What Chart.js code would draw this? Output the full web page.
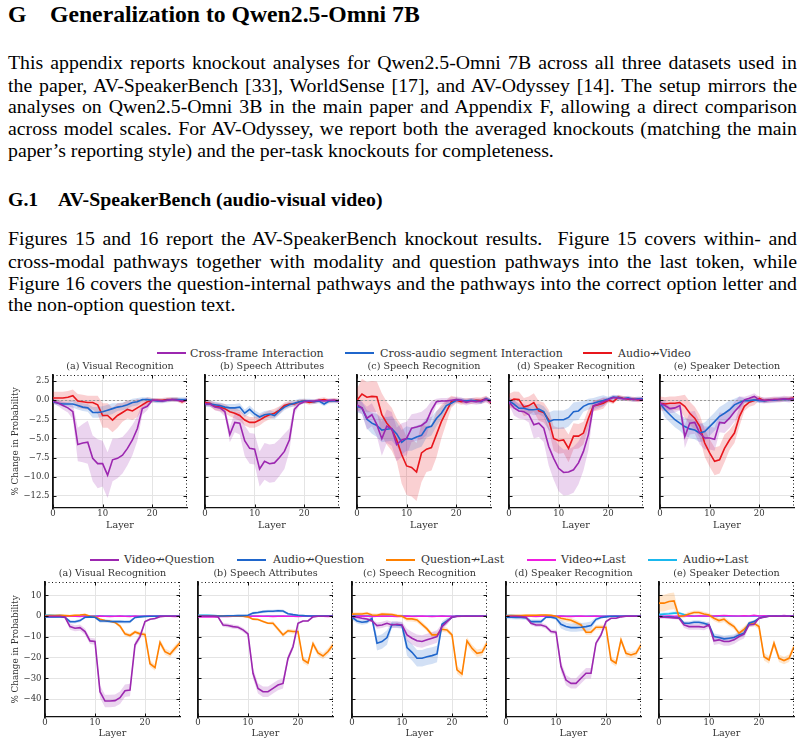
<!DOCTYPE html>
<html>
<head>
<meta charset="utf-8">
<script src="https://cdn.jsdelivr.net/npm/chart.js@4.4.1/dist/chart.umd.min.js"></script>
<style>
  body { margin: 0; width: 805px; height: 745px; position: relative; background: #fff; overflow: hidden; font-family: "Liberation Serif", "Times New Roman", serif; color: #000; }
  .t { position: absolute; left: 8px; width: 789px; font-size: 19.8px; line-height: 22px; }
  .j { text-align: justify; text-align-last: justify; }
  .h { position: absolute; font-weight: bold; }
  .ln { position: absolute; height: 2px; width: 29px; }
  .lt { position: absolute; font-family: "DejaVu Serif", serif; font-size: 11px; line-height: 13px; color: #333; white-space: nowrap; }
  canvas { position: absolute; }
</style>
</head>
<body>
<div class="h" style="left:8px;top:1px;font-size:23.7px;line-height:26px">G</div>
<div class="h" style="left:50px;top:1px;font-size:23.7px;line-height:26px">Generalization to Qwen2.5-Omni 7B</div>

<div class="t j" style="top:51px">This appendix reports knockout analyses for Qwen2.5-Omni 7B across all three datasets used in</div>
<div class="t j" style="top:74px">the paper, AV-SpeakerBench [33], WorldSense [17], and AV-Odyssey [14]. The setup mirrors the</div>
<div class="t j" style="top:95px">analyses on Qwen2.5-Omni 3B in the main paper and Appendix F, allowing a direct comparison</div>
<div class="t j" style="top:117px">across model scales. For AV-Odyssey, we report both the averaged knockouts (matching the main</div>
<div class="t" style="top:139px">paper’s reporting style) and the per-task knockouts for completeness.</div>

<div class="h" style="left:8px;top:188px;font-size:19.8px;line-height:22px">G.1</div>
<div class="h" style="left:58px;top:188px;font-size:19.8px;line-height:22px">AV-SpeakerBench (audio-visual video)</div>

<div class="t j" style="top:227px">Figures 15 and 16 report the AV-SpeakerBench knockout results.&nbsp; Figure 15 covers within- and</div>
<div class="t j" style="top:250px">cross-modal pathways together with modality and question pathways into the last token, while</div>
<div class="t j" style="top:272px">Figure 16 covers the question-internal pathways and the pathways into the correct option letter and</div>
<div class="t" style="top:293px">the non-option question text.</div>

<!-- legend, top figure -->
<span class="ln" style="left:157px;top:352px;background:#9c27b0"></span><span class="lt" style="left:190px;top:347px">Cross-frame Interaction</span>
<span class="ln" style="left:345px;top:352px;background:#1f66cc"></span><span class="lt" style="left:380px;top:347px">Cross-audio segment Interaction</span>
<span class="ln" style="left:583px;top:352px;background:#e8161c"></span><span class="lt" style="left:618px;top:347px">Audio↛Video</span>

<!-- legend, bottom figure -->
<span class="ln" style="left:90px;top:559px;background:#9c27b0"></span><span class="lt" style="left:124px;top:553px">Video↛Question</span>
<span class="ln" style="left:237px;top:559px;background:#1f66cc"></span><span class="lt" style="left:273px;top:553px">Audio↛Question</span>
<span class="ln" style="left:386px;top:559px;background:#ff8000"></span><span class="lt" style="left:421px;top:553px">Question↛Last</span>
<span class="ln" style="left:527px;top:559px;background:#f01ce0"></span><span class="lt" style="left:561px;top:553px">Video↛Last</span>
<span class="ln" style="left:648px;top:559px;background:#1ab8ee"></span><span class="lt" style="left:683px;top:553px">Audio↛Last</span>

<script>
// layer index 0..27
const layers = [0,1,2,3,4,5,6,7,8,9,10,11,12,13,14,15,16,17,18,19,20,21,22,23,24,25,26,27];
const titles = ['(a) Visual Recognition', '(b) Speech Attributes', '(c) Speech Recognition', '(d) Speaker Recognition', '(e) Speaker Detection'];

// ---- top figure: Cross-frame (cf), Cross-audio segment (ca), Audio↛Video (av)
const A_cf     = [-0.1,-0.35,-0.7,-1.0,-1.5,-5.8,-5.6,-5.5,-7.6,-8.3,-8.3,-9.8,-7.8,-7.6,-7.2,-6.3,-5.2,-3.7,-1.1,-0.8,0.0,0.0,-0.1,0.0,0.1,0.0,-0.1,0.0];
const A_cf_err = [0.3,0.4,0.5,0.6,1.0,2.2,2.5,2.8,3.0,3.2,3.0,3.0,2.8,2.6,2.4,2.2,2.0,1.6,0.8,0.5,0.2,0.2,0.2,0.2,0.2,0.2,0.2,0.2];
const A_ca     = [-0.2,-0.4,-0.5,-0.5,-0.5,-0.7,-0.9,-1.0,-1.6,-1.6,-1.5,-1.3,-1.1,-0.9,-0.8,-0.6,-0.3,-0.2,0.1,0.1,0.0,-0.1,-0.1,0.0,0.1,0.1,0.1,0.1];
const A_ca_err = [0.3,0.3,0.3,0.3,0.5,0.5,0.5,0.5,0.7,0.7,0.7,0.7,0.7,0.5,0.5,0.5,0.5,0.5,0.3,0.3,0.3,0.3,0.3,0.3,0.3,0.3,0.3,0.3];
const A_av     = [0.3,0.3,0.3,0.4,0.6,-0.1,-0.2,-0.3,-0.3,-0.6,-2.0,-2.0,-2.6,-2.0,-1.6,-1.2,-1.4,-1.0,-0.6,-0.2,0.0,0.0,0.0,0.1,0.1,0.1,-0.2,0.1];
const A_av_err = [0.8,0.8,0.8,0.8,0.8,0.9,0.9,0.9,0.9,1.2,1.6,1.6,1.6,1.6,1.2,1.2,1.2,1.2,0.6,0.6,0.3,0.3,0.3,0.3,0.3,0.3,0.3,0.3];

const B_cf     = [-0.45,-0.5,-0.9,-1.0,-1.5,-4.5,-2.9,-3.0,-5.3,-6.3,-6.4,-9.0,-8.0,-8.3,-8.2,-7.5,-6.7,-5.2,-1.2,-0.5,-0.2,-0.1,-0.1,0.0,-0.1,0.0,0.0,-0.1];
const B_cf_err = [0.3,0.3,0.4,0.5,0.6,1.0,1.3,1.5,2.0,2.0,2.0,2.3,2.4,2.5,2.5,2.4,2.3,1.5,0.6,0.2,0.2,0.2,0.2,0.2,0.2,0.2,0.2,0.2];
const B_ca     = [-0.5,-0.5,-0.6,-0.7,-0.9,-1.0,-1.0,-0.9,-1.7,-1.2,-1.8,-2.2,-1.9,-1.8,-2.0,-1.4,-0.9,-0.6,-0.4,-0.2,-0.1,-0.1,-0.2,-0.1,-0.5,-0.1,-0.1,-0.1];
const B_ca_err = [0.4,0.4,0.4,0.4,0.4,0.5,0.5,0.5,0.5,0.5,0.5,0.5,0.5,0.5,0.5,0.5,0.4,0.4,0.4,0.4,0.3,0.3,0.3,0.3,0.3,0.3,0.3,0.3];
const B_av     = [-0.3,-0.4,-0.8,-0.9,-1.1,-1.5,-1.7,-2.0,-2.6,-2.9,-2.9,-2.6,-2.2,-1.9,-1.7,-1.3,-0.7,-0.5,-0.5,-0.2,-0.1,-0.3,-0.2,0.0,0.1,-0.1,0.0,-0.1];
const B_av_err = [0.4,0.4,0.5,0.5,0.6,0.6,0.7,0.7,0.7,0.7,0.7,0.7,0.6,0.6,0.6,0.5,0.4,0.4,0.3,0.3,0.3,0.3,0.3,0.3,0.3,0.3,0.3,0.3];

const C_cf     = [-0.6,-1.0,-2.35,-1.9,-3.2,-5.05,-3.4,-3.75,-5.8,-5.2,-5.0,-3.65,-3.5,-3.3,-2.8,-1.3,-0.2,-0.1,-0.1,0.0,0.1,0.0,-0.3,-0.1,-0.2,-0.1,0.1,-0.2];
const C_cf_err = [0.8,0.8,1.5,1.5,1.5,2.2,2.2,2.2,2.2,2.2,2.2,1.8,1.8,1.8,1.8,1.2,0.4,0.4,0.4,0.4,0.4,0.4,0.4,0.4,0.4,0.4,0.4,0.4];
const C_ca     = [-0.8,-1.0,-2.5,-3.0,-3.3,-3.9,-3.8,-3.7,-4.4,-5.5,-5.0,-5.1,-4.8,-4.6,-3.6,-3.4,-2.4,-1.7,-0.7,-0.4,0.0,0.0,-0.1,0.0,-0.1,-0.2,0.2,-0.1];
const C_ca_err = [0.8,0.8,1.2,1.4,1.5,1.6,1.6,1.6,1.6,1.6,1.6,1.5,1.5,1.5,1.3,1.2,1.0,0.8,0.5,0.4,0.3,0.3,0.3,0.3,0.3,0.3,0.3,0.3];
const C_av     = [0.0,0.8,0.4,0.5,0.45,-1.9,-3.0,-3.8,-5.2,-7.1,-8.6,-8.8,-9.4,-6.9,-6.4,-6.2,-4.5,-2.8,-1.5,-0.2,0.0,-0.2,-0.1,-0.1,0.0,-0.05,0.2,-0.3];
const C_av_err = [1.5,2.0,2.0,2.0,2.0,2.8,2.8,2.8,2.8,3.8,3.8,3.8,3.8,3.8,3.0,3.0,3.0,2.2,1.5,0.8,0.4,0.4,0.4,0.4,0.4,0.4,0.4,0.4];

const D_cf     = [-0.25,-1.0,-1.4,-1.5,-1.9,-3.2,-3.0,-3.65,-6.05,-7.6,-8.9,-9.45,-9.4,-9.1,-8.2,-6.7,-4.5,-0.75,-0.5,-0.2,0.05,0.35,0.3,0.2,0.2,0.1,0.1,0.1];
const D_cf_err = [0.3,1.0,1.0,1.0,1.0,1.8,1.8,1.8,2.5,2.8,3.0,3.0,3.0,3.0,2.8,2.5,2.0,0.6,0.6,0.6,0.3,0.3,0.3,0.3,0.3,0.3,0.3,0.3];
const D_ca     = [-0.1,-0.5,-1.05,-1.05,-1.25,-1.25,-1.15,-1.5,-2.8,-2.55,-2.55,-2.55,-2.25,-1.5,-1.4,-0.8,-0.5,-0.4,-0.2,-0.05,0.15,0.4,0.35,0.2,0.3,0.1,0.2,0.2];
const D_ca_err = [0.5,0.5,0.5,0.5,0.5,0.7,0.7,0.7,1.2,1.2,1.2,1.2,1.2,1.2,1.2,0.7,0.7,0.7,0.7,0.7,0.3,0.3,0.3,0.3,0.3,0.3,0.3,0.3];
const D_av     = [-0.15,0.15,0.1,-0.9,-0.7,-0.3,-1.4,-1.6,-2.55,-5.0,-5.3,-5.2,-6.3,-4.7,-4.7,-4.3,-2.35,-0.75,-0.6,-0.4,0.0,-0.2,0.4,0.25,0.15,0.15,0.05,0.15];
const D_av_err = [1.0,1.0,1.0,1.2,1.2,1.2,1.3,1.3,1.3,1.6,1.7,1.7,1.8,1.7,1.6,1.5,1.2,0.7,0.7,0.7,0.3,0.3,0.3,0.3,0.3,0.3,0.3,0.3];

const E_cf     = [-0.4,-0.7,-1.1,-1.0,-0.7,-4.75,-3.0,-2.9,-4.3,-4.95,-4.95,-5.1,-2.9,-3.0,-2.35,-1.5,-0.8,0.05,0.25,0.5,0.05,0.0,0.0,0.1,0.1,0.2,0.1,0.2];
const E_cf_err = [0.6,0.6,0.6,0.6,0.6,1.5,1.5,1.5,1.5,1.5,1.5,1.5,1.3,1.3,1.3,1.3,1.3,0.4,0.4,0.4,0.4,0.4,0.4,0.4,0.4,0.4,0.4,0.4];
const E_ca     = [-0.4,-1.25,-1.9,-2.55,-3.0,-3.45,-3.75,-3.9,-4.3,-4.1,-3.45,-2.8,-2.1,-1.7,-1.25,-0.6,-0.3,-0.05,-0.05,0.05,-0.05,-0.1,0.0,0.0,0.1,0.1,0.1,0.2];
const E_ca_err = [0.3,1.0,1.0,1.0,1.0,1.2,1.2,1.2,1.2,1.2,1.2,1.2,1.2,1.2,1.2,0.8,0.8,0.3,0.3,0.3,0.3,0.3,0.3,0.3,0.3,0.3,0.3,0.3];
const E_av     = [-0.4,-0.5,-0.4,-0.4,-0.3,-0.8,-1.7,-2.35,-3.4,-5.6,-6.9,-8.0,-7.8,-6.3,-5.2,-4.3,-2.15,-0.8,-0.25,-0.05,0.25,-0.05,0.05,0.1,0.1,0.15,0.2,0.3];
const E_av_err = [0.9,0.9,0.9,0.9,0.9,1.5,1.5,1.5,1.5,1.8,1.8,1.8,1.8,1.8,1.3,1.3,1.3,0.6,0.6,0.6,0.3,0.3,0.3,0.3,0.3,0.3,0.3,0.3];

// ---- bottom figure: Video↛Question (vq), Audio↛Question (aq), Question↛Last (ql), Video↛Last (vl), Audio↛Last (al)
const a_vq     = [0,0,0,0,-0.5,-5.0,-5.8,-5.5,-7.4,-11.9,-12.2,-36.4,-40.9,-40.9,-40.7,-39.3,-35.9,-35.6,-13.8,-9.8,-2.6,-1.45,-1.1,-0.2,0,0,0,0];
const a_vq_err = [0.3,0.3,0.3,0.3,0.5,1.5,1.5,1.5,1.5,1.5,1.5,3.0,3.0,3.0,3.0,3.0,3.0,3.0,1.5,1.5,0.5,0.5,0.5,0.3,0.3,0.3,0.3,0.3];
const a_aq     = [-0.3,-0.3,-0.3,-0.3,-0.5,-2.6,-2.7,-2.1,-0.5,-0.3,-0.5,-2.3,-2.3,-2.5,-2.6,-2.6,-2.7,-2.6,-0.6,-0.3,-0.1,0,0,0,0,0,0,0];
const a_aq_err = [0.5,0.5,0.5,0.5,0.5,0.8,0.8,0.8,0.5,0.5,0.5,0.8,0.8,0.8,0.8,0.8,0.8,0.8,0.5,0.5,0.4,0.4,0.4,0.4,0.4,0.4,0.4,0.4];
const a_ql     = [0.2,0.3,0.3,0.4,0.3,0.2,0.5,0.6,0.8,0.0,-0.3,-1.5,-2.1,-2.4,-3.0,-4.8,-8.5,-9.3,-7.6,-8.5,-8.8,-22.9,-24.8,-12.6,-17.1,-18.3,-15.5,-12.8];
const a_ql_err = [0.5,0.5,0.5,0.5,0.5,0.5,0.5,0.5,0.5,0.5,0.5,0.5,0.5,0.5,0.5,1.0,1.0,1.0,1.0,1.0,1.0,1.5,1.5,1.5,1.5,1.5,1.5,1.5];
const a_vl     = [-0.2,-0.1,-0.2,-0.1,-0.1,0.1,0.0,-0.1,0.1,0.0,-0.1,0.1,0.0,-0.1,0.0,0.1,0.0,-0.1,0.1,0.0,0.0,0.1,0.0,0.1,0.0,0.0,-0.1,0.0];
const a_al     = [0.4,0.4,0.3,0.3,0.2,0.1,0.1,0.0,0.1,0.0,0.1,0.2,0.1,0.1,0.0,0.1,0.0,0.1,0.0,0.0,0.1,0.0,0.0,0.1,0.0,0.0,0.0,0.0];
const a_al_err = [0.6,0.6,0.5,0.5,0.4,0.3,0.3,0.3,0.3,0.3,0.3,0.3,0.3,0.3,0.3,0.3,0.3,0.3,0.3,0.3,0.3,0.3,0.3,0.3,0.3,0.3,0.3,0.3];

const b_vq     = [0,0,0,0,-0.3,-4.2,-4.5,-5.0,-5.3,-6.6,-8.5,-27.5,-34.8,-36.4,-36.4,-34.8,-33.2,-32.4,-20.3,-14.7,-3.4,-2.3,-2.3,-0.3,0,0,0,0];
const b_vq_err = [0.3,0.3,0.3,0.3,0.3,1.0,1.0,1.0,1.0,1.0,1.0,2.5,2.5,2.5,2.5,2.5,2.5,2.5,1.5,1.5,0.5,0.5,0.5,0.3,0.3,0.3,0.3,0.3];
const b_aq     = [0.1,0.1,0.1,0.1,0.1,0.1,0.2,0.2,0.3,0.3,0.5,1.5,1.8,2.2,2.4,2.4,2.6,2.5,1.2,0.8,0.5,0.3,0.1,0.1,0.1,0.1,0.1,0.1];
const b_aq_err = [0.5,0.5,0.5,0.5,0.5,0.5,0.5,0.5,0.5,0.5,0.5,0.7,0.7,0.7,0.7,0.7,0.7,0.7,0.5,0.5,0.4,0.4,0.4,0.4,0.4,0.4,0.4,0.4];
const b_ql     = [0.2,0.2,0.2,0.2,0.1,0.1,0.1,0.1,0.1,0.0,-0.3,-1.4,-1.6,-2.5,-3.4,-3.4,-6.2,-9.0,-7.0,-7.4,-7.4,-21.0,-22.5,-13.2,-17.7,-19.2,-17.0,-13.8];
const b_ql_err = [0.5,0.5,0.5,0.5,0.5,0.5,0.5,0.5,0.5,0.5,0.5,0.5,0.5,0.5,0.5,1.0,1.0,1.0,1.0,1.0,1.0,1.5,1.5,1.5,1.5,1.5,1.5,1.5];
const b_vl     = [-0.4,-0.4,-0.3,-0.3,-0.2,0.0,-0.1,0.0,0.1,0.0,-0.1,0.0,0.1,0.0,0.0,-0.1,0.0,0.1,0.0,0.0,-0.1,0.0,0.1,0.0,0.0,0.0,-0.1,0.0];
const b_al     = [0.5,0.5,0.4,0.3,0.2,0.1,0.0,0.1,0.0,0.1,0.0,0.1,0.0,0.0,0.1,0.0,0.1,0.0,0.0,0.1,0.0,0.0,0.1,0.0,0.0,0.1,0.0,0.0];
const b_al_err = [0.6,0.6,0.5,0.5,0.4,0.3,0.3,0.3,0.3,0.3,0.3,0.3,0.3,0.3,0.3,0.3,0.3,0.3,0.3,0.3,0.3,0.3,0.3,0.3,0.3,0.3,0.3,0.3];

const c_vq     = [-0.2,-0.5,-1.0,-1.3,-2.3,-4.5,-4.2,-3.4,-4.2,-3.9,-4.2,-9.0,-10.6,-11.8,-12.2,-11.4,-10.6,-9.8,-5.0,-2.6,-0.5,0,0,0,0,0,0,0];
const c_vq_err = [0.7,0.7,0.7,0.7,0.7,1.5,1.5,1.5,1.5,1.5,1.5,3.0,3.0,3.0,3.0,3.0,3.0,3.0,1.5,1.5,0.5,0.3,0.3,0.3,0.3,0.3,0.3,0.3];
const c_aq     = [-0.5,-2.3,-2.9,-2.6,-1.0,-13.0,-12.2,-10.3,-3.9,-4.2,-4.5,-15.1,-17.4,-20.3,-20.3,-19.5,-19.0,-18.2,-3.9,-2.3,-0.5,0,0,0,0,0,0,0];
const c_aq_err = [1.2,1.2,1.2,1.2,1.2,3.5,3.5,3.5,1.5,1.5,1.5,4.0,4.0,4.0,4.0,4.0,4.0,4.0,1.5,1.5,0.3,0.3,0.3,0.3,0.3,0.3,0.3,0.3];
const c_ql     = [1.0,1.1,1.1,1.4,0.6,0.5,1.0,0.9,0.8,0.3,0.0,-1.3,-1.3,-1.8,-3.9,-6.1,-9.0,-9.0,-6.3,-6.6,-9.0,-25.9,-27.9,-11.9,-15.5,-17.9,-17.4,-13.0];
const c_ql_err = [0.8,0.8,0.8,0.8,0.8,0.8,0.8,0.8,0.8,0.8,0.8,1.2,1.2,1.2,1.2,1.2,1.2,1.2,1.2,1.2,1.2,1.8,1.8,1.8,1.8,1.8,1.8,1.8];
const c_vl     = [-0.1,0.0,0.1,0.0,-0.1,0.0,0.1,0.0,0.0,-0.1,0.0,0.1,0.0,0.0,0.1,0.0,-0.1,0.0,0.1,0.0,0.0,-0.1,0.0,0.1,0.0,0.0,0.1,0.0];
const c_al     = [0.3,0.3,0.2,0.2,0.1,0.1,0.0,0.1,0.0,0.1,0.2,0.1,0.0,0.1,0.0,0.0,0.1,0.0,0.1,0.0,0.0,0.1,0.0,0.0,0.1,0.0,0.0,0.0];
const c_al_err = [0.4,0.4,0.4,0.4,0.3,0.3,0.3,0.3,0.3,0.3,0.3,0.3,0.3,0.3,0.3,0.3,0.3,0.3,0.3,0.3,0.3,0.3,0.3,0.3,0.3,0.3,0.3,0.3];

const d_vq     = [0,0,0,-0.2,-0.5,-3.4,-4.2,-4.2,-5.0,-7.4,-7.7,-24.3,-30.8,-32.4,-32.4,-29.9,-27.5,-27.5,-13.0,-9.0,-2.6,-1.0,-1.0,-0.3,0,0,0,0];
const d_vq_err = [0.3,0.3,0.3,0.3,0.3,1.0,1.0,1.0,1.0,1.0,1.0,2.5,2.5,2.5,2.5,2.5,2.5,2.5,1.2,1.2,0.5,0.5,0.5,0.3,0.3,0.3,0.3,0.3];
const d_aq     = [-0.5,-0.5,-0.6,-0.6,-0.8,-2.6,-2.6,-2.6,-0.5,-0.5,-1.0,-3.9,-5.0,-5.5,-5.5,-5.3,-5.0,-4.5,-1.5,-0.6,-0.3,0,0,0,0,0,0,0];
const d_aq_err = [1.0,1.0,1.0,1.0,1.0,1.0,1.0,1.0,0.6,0.6,0.8,2.0,2.0,2.0,2.0,2.0,2.0,2.0,1.0,0.6,0.3,0.3,0.3,0.3,0.3,0.3,0.3,0.3];
const d_ql     = [0.2,0.3,0.3,0.3,0.4,0.4,0.5,0.6,0.6,0.4,0.0,-1.0,-1.5,-1.9,-3.0,-4.2,-7.7,-7.7,-5.3,-5.3,-5.3,-21.1,-22.7,-11.4,-17.9,-18.7,-17.9,-13.8];
const d_ql_err = [0.5,0.5,0.5,0.5,0.5,0.5,0.5,0.5,0.5,0.5,0.5,1.2,1.2,1.2,1.2,1.2,1.2,1.2,1.2,1.2,1.2,1.5,1.5,1.5,1.5,1.5,1.5,1.5];
const d_vl     = [0.0,-0.1,0.0,0.1,0.0,0.0,-0.1,0.0,0.1,0.0,0.0,0.1,0.0,-0.1,0.0,0.1,0.0,0.0,0.1,0.0,-0.1,0.0,0.1,0.0,0.0,0.1,0.0,0.0];
const d_al     = [0.3,0.3,0.2,0.2,0.1,0.0,0.1,0.0,0.1,0.0,0.0,0.1,0.0,0.0,0.1,0.0,0.0,0.1,0.0,0.0,0.1,0.0,0.0,0.0,0.1,0.0,0.0,0.0];
const d_al_err = [0.5,0.5,0.5,0.4,0.4,0.3,0.3,0.3,0.3,0.3,0.3,0.3,0.3,0.3,0.3,0.3,0.3,0.3,0.3,0.3,0.3,0.3,0.3,0.3,0.3,0.3,0.3,0.3];

const e_vq     = [-0.5,-0.5,-0.6,-0.8,-1.0,-4.2,-5.0,-5.0,-5.0,-5.3,-4.2,-11.9,-11.4,-12.2,-12.2,-11.4,-9.8,-8.7,-4.2,-3.9,-1.0,-0.5,0,0,0,0,0,0];
const e_vq_err = [0.7,0.7,0.7,0.7,0.7,1.5,1.5,1.5,1.5,1.5,1.5,2.0,2.0,2.0,2.0,2.0,2.0,2.0,1.0,1.0,0.5,0.3,0.3,0.3,0.3,0.3,0.3,0.3];
const e_aq     = [0,-0.3,-0.3,-0.5,-0.6,-3.4,-3.4,-2.9,-2.9,-3.4,-4.2,-9.8,-10.3,-10.9,-10.6,-10.3,-9.0,-8.2,-3.4,-2.6,-1.0,-0.3,0,0,0,0,0,0];
const e_aq_err = [0.5,0.5,0.5,0.5,0.5,1.0,1.0,1.0,1.0,1.0,1.0,1.5,1.5,1.5,1.5,1.5,1.5,1.5,0.8,0.8,0.4,0.3,0.3,0.3,0.3,0.3,0.3,0.3];
const e_ql     = [6.3,6.3,7.1,7.4,-0.2,0.2,1.1,1.8,1.8,1.1,0.6,-1.0,-2.1,-1.45,-3.4,-5.0,-8.2,-6.3,-3.9,-3.4,-5.0,-19.5,-21.1,-13.0,-20.3,-21.4,-20.3,-14.7];
const e_ql_err = [4.0,4.0,4.0,4.0,1.0,1.0,1.0,1.0,1.0,1.0,1.0,1.3,1.3,1.3,1.3,1.3,1.3,1.3,1.3,1.3,1.3,1.8,1.8,1.8,1.8,1.8,1.8,1.8];
const e_vl     = [-0.1,0.0,0.1,0.0,0.1,0.2,0.1,0.0,0.2,0.1,0.0,0.1,0.2,0.3,0.2,0.1,0.1,0.2,0.1,0.4,0.1,0.2,0.1,0.2,0.1,0.3,0.1,0.2];
const e_al     = [0.8,1.0,1.2,1.5,1.5,0.8,0.3,0.1,0.1,0.0,0.1,0.0,0.1,0.0,0.0,0.1,0.0,0.1,0.0,0.0,0.1,0.0,0.1,0.0,0.0,0.1,0.0,0.1];
const e_al_err = [0.8,0.8,0.8,0.8,0.8,0.5,0.3,0.3,0.3,0.3,0.3,0.3,0.3,0.3,0.3,0.3,0.3,0.3,0.3,0.3,0.3,0.3,0.3,0.3,0.3,0.3,0.3,0.3];

const PURPLE = '#9c27b0', BLUE = '#1f66cc', RED = '#e8161c', ORANGE = '#ff8000', MAGENTA = '#f01ce0', CYAN = '#1ab8ee';
const band = {};
band[PURPLE] = 'rgba(156,39,176,0.2)';
band[BLUE] = 'rgba(31,102,204,0.2)';
band[RED] = 'rgba(232,22,28,0.2)';
band[ORANGE] = 'rgba(255,128,0,0.2)';
band[MAGENTA] = 'rgba(240,28,224,0.2)';
band[CYAN] = 'rgba(26,184,238,0.2)';

const topPanels = [
  [[A_cf, A_cf_err, PURPLE], [A_ca, A_ca_err, BLUE], [A_av, A_av_err, RED]],
  [[B_cf, B_cf_err, PURPLE], [B_ca, B_ca_err, BLUE], [B_av, B_av_err, RED]],
  [[C_cf, C_cf_err, PURPLE], [C_ca, C_ca_err, BLUE], [C_av, C_av_err, RED]],
  [[D_cf, D_cf_err, PURPLE], [D_ca, D_ca_err, BLUE], [D_av, D_av_err, RED]],
  [[E_cf, E_cf_err, PURPLE], [E_ca, E_ca_err, BLUE], [E_av, E_av_err, RED]],
];
const botPanels = [
  [[a_vq, a_vq_err, PURPLE], [a_aq, a_aq_err, BLUE], [a_ql, a_ql_err, ORANGE], [a_vl, null, MAGENTA], [a_al, a_al_err, CYAN]],
  [[b_vq, b_vq_err, PURPLE], [b_aq, b_aq_err, BLUE], [b_ql, b_ql_err, ORANGE], [b_vl, null, MAGENTA], [b_al, b_al_err, CYAN]],
  [[c_vq, c_vq_err, PURPLE], [c_aq, c_aq_err, BLUE], [c_ql, c_ql_err, ORANGE], [c_vl, null, MAGENTA], [c_al, c_al_err, CYAN]],
  [[d_vq, d_vq_err, PURPLE], [d_aq, d_aq_err, BLUE], [d_ql, d_ql_err, ORANGE], [d_vl, null, MAGENTA], [d_al, d_al_err, CYAN]],
  [[e_vq, e_vq_err, PURPLE], [e_aq, e_aq_err, BLUE], [e_ql, e_ql_err, ORANGE], [e_vl, null, MAGENTA], [e_al, e_al_err, CYAN]],
];

const minus = (s) => s.replace('-', '\u2212');

const TOP = { plotTop: 375, plotBottom: 508, lefts: [53, 205, 357, 509, 660], w: 134, yw: 48, xh: 23,
  ymin: -14.1, ymax: 3.3, step: 2.5, fmt: v => minus(v.toFixed(1)), zero: true };
const BOT = { plotTop: 582, plotBottom: 717, lefts: [45, 198, 352, 506, 659], w: 135, yw: 40, xh: 22,
  ymin: -48.6, ymax: 16.5, step: 10, fmt: v => minus(String(v)), zero: false };

Chart.defaults.font.family = "'DejaVu Serif', serif";
Chart.defaults.color = '#333';
Chart.defaults.animation = false;

// panel title over the plot area, dashed zero line, matplotlib-like inward ticks / dotted top & right frame
const framePlugin = {
  id: 'frame',
  beforeDatasetsDraw(chart, args, opts) {
    if (!opts.zero) return;
    const { ctx, chartArea: a, scales: { y } } = chart;
    const py = Math.round(y.getPixelForValue(0)) + 0.5;
    ctx.save();
    ctx.strokeStyle = '#9a9a9a';
    ctx.lineWidth = 1;
    ctx.setLineDash([2, 2]);
    ctx.beginPath(); ctx.moveTo(a.left, py); ctx.lineTo(a.right, py); ctx.stroke();
    ctx.restore();
  },
  afterDraw(chart, args, opts) {
    const { ctx, chartArea: a, scales: { x, y } } = chart;
    ctx.save();
    ctx.fillStyle = '#333';
    ctx.font = "9.6px 'DejaVu Serif', serif";
    ctx.textAlign = 'center';
    ctx.textBaseline = 'middle';
    ctx.fillText(opts.title, (a.left + a.right) / 2, a.top - 8.5);

    ctx.strokeStyle = '#111';
    ctx.lineWidth = 1;
    ctx.setLineDash([1, 2.5]);
    ctx.beginPath();
    ctx.moveTo(a.left, a.top + 0.5); ctx.lineTo(a.right, a.top + 0.5);
    ctx.moveTo(a.right - 0.5, a.top); ctx.lineTo(a.right - 0.5, a.bottom);
    ctx.stroke();
    ctx.setLineDash([]);
    ctx.beginPath();
    y.ticks.forEach(t => {
      const p = Math.round(y.getPixelForValue(t.value)) + 0.5;
      ctx.moveTo(a.left, p); ctx.lineTo(a.left + 3.5, p);
      ctx.moveTo(a.right, p); ctx.lineTo(a.right - 3.5, p);
    });
    x.ticks.forEach(t => {
      const p = Math.round(x.getPixelForValue(t.value)) + 0.5;
      ctx.moveTo(p, a.bottom); ctx.lineTo(p, a.bottom - 3.5);
      ctx.moveTo(p, a.top); ctx.lineTo(p, a.top + 3.5);
    });
    ctx.stroke();
    ctx.restore();
  }
};

function makePanel(row, i, series) {
  const first = i === 0;
  const yw = first ? row.yw : 8;
  const left = row.lefts[i] - yw;
  const top = row.plotTop - 15;
  const width = yw + row.w + 4;
  const height = 15 + (row.plotBottom - row.plotTop) + row.xh;

  const cv = document.createElement('canvas');
  cv.width = width; cv.height = height;
  cv.style.left = left + 'px'; cv.style.top = top + 'px';
  cv.style.width = width + 'px'; cv.style.height = height + 'px';
  document.body.appendChild(cv);

  const datasets = [];
  series.forEach(([m, e, c]) => {
    if (!e) return;
    datasets.push({ data: m.map((v, k) => v + e[k]), borderColor: 'transparent', borderWidth: 0, pointRadius: 0, fill: false });
    datasets.push({ data: m.map((v, k) => v - e[k]), borderColor: 'transparent', borderWidth: 0, pointRadius: 0, fill: '-1', backgroundColor: band[c] });
  });
  series.forEach(([m, e, c]) => {
    datasets.push({ data: m, borderColor: c, borderWidth: 1.6, pointRadius: 0, fill: false });
  });

  new Chart(cv, {
    type: 'line',
    data: { labels: layers, datasets },
    options: {
      responsive: false,
      animation: false,
      layout: { padding: { left: 0, right: 4, top: 15, bottom: 0 } },
      elements: { line: { tension: 0 } },
      plugins: {
        legend: { display: false },
        tooltip: { enabled: false },
        title: { display: false },
        filler: { drawTime: 'beforeDatasetsDraw' },
        frame: { zero: row.zero, title: titles[i] }
      },
      scales: {
        x: {
          type: 'linear', min: 0, max: 27,
          afterFit: s => { s.height = row.xh; },
          ticks: { stepSize: 10, includeBounds: false, padding: 1, font: { size: 8.5 }, color: '#333', maxRotation: 0 },
          grid: { color: '#e4e4e4', drawTicks: false },
          border: { display: true, color: '#111', width: 1.3 },
          title: { display: true, text: 'Layer', color: '#333', font: { size: 9.6, lineHeight: '11px' }, padding: 0 }
        },
        y: {
          min: row.ymin, max: row.ymax,
          afterFit: s => { s.width = yw; },
          ticks: { stepSize: row.step, includeBounds: false, padding: 3.5, display: first,
            font: { size: 8.5 }, color: '#333', callback: v => row.fmt(v) },
          grid: { color: '#e4e4e4', drawTicks: false },
          border: { display: true, color: '#111', width: 1.8 },
          title: { display: first, text: '% Change in Probability', color: '#333',
            font: { size: 8.8, lineHeight: '10px' }, padding: { top: 6, bottom: 0 } }
        }
      }
    },
    plugins: [framePlugin]
  });
}

topPanels.forEach((s, i) => makePanel(TOP, i, s));
botPanels.forEach((s, i) => makePanel(BOT, i, s));
</script>
</body>
</html>
